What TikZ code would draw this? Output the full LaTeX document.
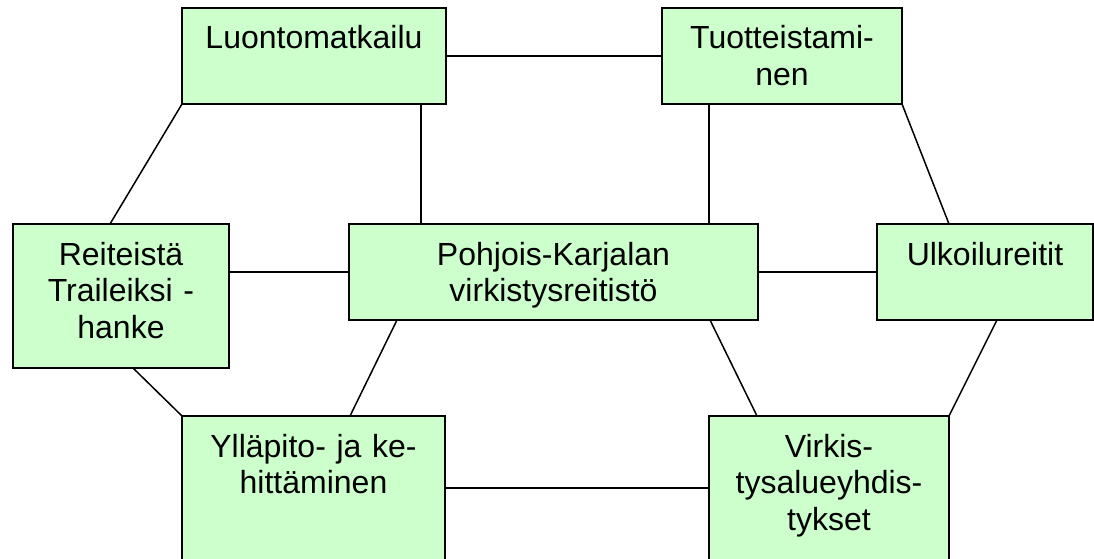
\documentclass[tikz,border=0pt]{standalone}
\usepackage{fontspec}
\setmainfont{Liberation Sans}
\usetikzlibrary{calc}
\definecolor{boxgreen}{RGB}{204,255,204}
\tikzset{
  box/.style={draw=black, fill=boxgreen, line width=1.5pt, inner sep=0pt, outer sep=0pt,
    align=center, anchor=north west, text height=41pt,
    font=\fontsize{32}{36.5}\selectfont},
  link/.style={draw=black, line width=1.5pt}
}
\begin{document}
\begin{tikzpicture}[x=1pt, y=-1pt]
\useasboundingbox (0,0) rectangle (1094,559);
\clip (0,0) rectangle (1094,559);
% boxes
\node[box, text width=264pt, text depth=55pt] (L) at (182,8) {Luontomatkailu};
\node[box, text width=240pt, text depth=55pt] (T) at (662,8) {Tuotteistami-\\nen};
\node[box, text width=216pt, text depth=103pt] (R) at (13,224) {Reiteistä\\Traileiksi -\\hanke};
\node[box, text width=409pt, text depth=55pt] (P) at (349,224) {Pohjois-Karjalan\\virkistysreitistö};
\node[box, text width=216pt, text depth=55pt] (U) at (877,224) {Ulkoilureitit};
\node[box, text width=263pt, text depth=129pt] (Y) at (182,416) {Ylläpito- ja ke-\\hittäminen};
\node[box, text width=240pt, text depth=129pt] (V) at (709,416) {Virkis-\\tysalueyhdis-\\tykset};
% connectors
\draw[link] (L.east) -- (T.west);
\draw[link] ([xshift=-25pt]L.south east) -- ([xshift=72pt]P.north west);
\draw[link] ([xshift=47pt]T.south west) -- ([xshift=-49pt]P.north east);
\draw[link] (L.south west) -- ([xshift=97pt]R.north west);
\draw[link] (T.south east) -- ([xshift=72pt]U.north west);
\draw[link] (P.west -| R.east) -- (P.west);
\draw[link] (P.east) -- (U.west);
\draw[link] ([xshift=120pt]R.south west) -- (Y.north west);
\draw[link] ([xshift=48pt]P.south west) -- ([xshift=168pt]Y.north west);
\draw[link] ([xshift=-48pt]P.south east) -- ([xshift=48pt]V.north west);
\draw[link] ([xshift=-96pt]U.south east) -- (V.north east);
\draw[link] ([yshift=-72pt]Y.north east) -- ([yshift=-72pt]V.north west);
\end{tikzpicture}
\end{document}
